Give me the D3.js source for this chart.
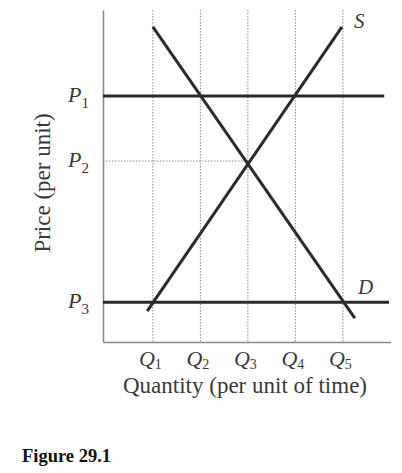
<!DOCTYPE html>
<html>
<head>
<meta charset="utf-8">
<script src="https://cdn.jsdelivr.net/npm/d3@7"></script>
<style>
  body { margin: 0; background: #fff; }
  text { font-family: "Liberation Serif", "DejaVu Serif", serif; fill: #3a3a3a; }
</style>
</head>
<body>
<script>
// quantity and price levels
const qLabels = ["1", "2", "3", "4", "5"];
const qValues = [1, 2, 3, 4, 5];
const pLabels = ["1", "2", "3"];
const pValues = [7.41, 5.45, 1.2];

// curve end points [quantity, price]
const supply = [[0.88, 0.93], [4.98, 9.49]];
const demand = [[1.0, 9.49], [5.25, 0.72]];
// horizontal price lines: [price, right end quantity]
const priceLines = [[7.41, 5.87], [1.2, 5.97]];

const width = 402, height = 473;
const svg = d3.select("body").append("svg").attr("width", width).attr("height", height);

const xScale = d3.scaleLinear().domain([-0.05, 6]).range([103, 390.4]);
const yScale = d3.scaleLinear().domain([0, 10]).range([342, 10]);

// dotted guides at each Q
svg.selectAll("line.qgrid")
   .data(qValues)
   .enter()
   .append("line")
   .attr("class", "qgrid")
   .attr("x1", d => xScale(d)).attr("x2", d => xScale(d))
   .attr("y1", yScale(10)).attr("y2", yScale(0))
   .attr("stroke", "#8a8a8a")
   .attr("stroke-width", 1)
   .attr("stroke-dasharray", "1.5,1.5");

// dotted P2 guide to Q3
svg.append("line")
   .attr("x1", xScale(-0.05)).attr("x2", xScale(qValues[2]))
   .attr("y1", yScale(pValues[1])).attr("y2", yScale(pValues[1]))
   .attr("stroke", "#8a8a8a")
   .attr("stroke-width", 1)
   .attr("stroke-dasharray", "1.5,1.5");

// axes (no ticks, just lines)
const yAxis = d3.axisLeft(yScale).tickValues([]).tickSizeOuter(0);
const xAxis = d3.axisBottom(xScale).tickValues([]).tickSizeOuter(0);
svg.append("g").attr("transform", `translate(${xScale(-0.05)},0)`).call(yAxis)
   .select("path").attr("stroke", "#888").attr("stroke-width", 1.5);
svg.append("g").attr("transform", `translate(0,${yScale(0)})`).call(xAxis)
   .select("path").attr("stroke", "#888").attr("stroke-width", 1.5);

const line = d3.line().x(d => xScale(d[0])).y(d => yScale(d[1]));

// horizontal price lines P1 and P3
svg.selectAll("path.pline")
   .data(priceLines)
   .enter()
   .append("path")
   .attr("class", "pline")
   .attr("d", d => line([[-0.05, d[0]], [d[1], d[0]]]))
   .attr("stroke", "#2b2b2b")
   .attr("stroke-width", 3)
   .attr("fill", "none");

// supply and demand
[supply, demand].forEach(pts => {
  svg.append("path")
     .attr("d", line(pts))
     .attr("stroke", "#2b2b2b")
     .attr("stroke-width", 3)
     .attr("fill", "none");
});

// curve labels
svg.append("text").attr("x", 354).attr("y", 28)
   .attr("font-size", 21).attr("font-style", "italic").text("S");
svg.append("text").attr("x", 358).attr("y", 294)
   .attr("font-size", 21).attr("font-style", "italic").text("D");

// P labels
pValues.forEach((p, i) => {
  const t = svg.append("text")
     .attr("x", 68).attr("y", yScale(p) + 6)
     .attr("font-size", 22);
  t.append("tspan").attr("font-style", "italic").text("P");
  t.append("tspan").attr("font-size", 15).attr("dy", 6).text(pLabels[i]);
});

// Q labels
qValues.forEach((q, i) => {
  const t = svg.append("text")
     .attr("x", xScale(q) - 14).attr("y", 366)
     .attr("font-size", 22);
  t.append("tspan").attr("font-style", "italic").text("Q");
  t.append("tspan").attr("font-size", 14).attr("dy", 3).text(qLabels[i]);
});

// axis titles
svg.append("text")
   .attr("x", 245).attr("y", 393)
   .attr("text-anchor", "middle")
   .attr("font-size", 23)
   .text("Quantity (per unit of time)");

svg.append("text")
   .attr("transform", "translate(50,183) rotate(-90)")
   .attr("text-anchor", "middle")
   .attr("font-size", 23)
   .text("Price (per unit)");

svg.append("text")
   .attr("x", 22).attr("y", 462)
   .attr("font-size", 18.5).attr("font-weight", "bold")
   .style("fill", "#111")
   .text("Figure 29.1");
</script>
</body>
</html>
